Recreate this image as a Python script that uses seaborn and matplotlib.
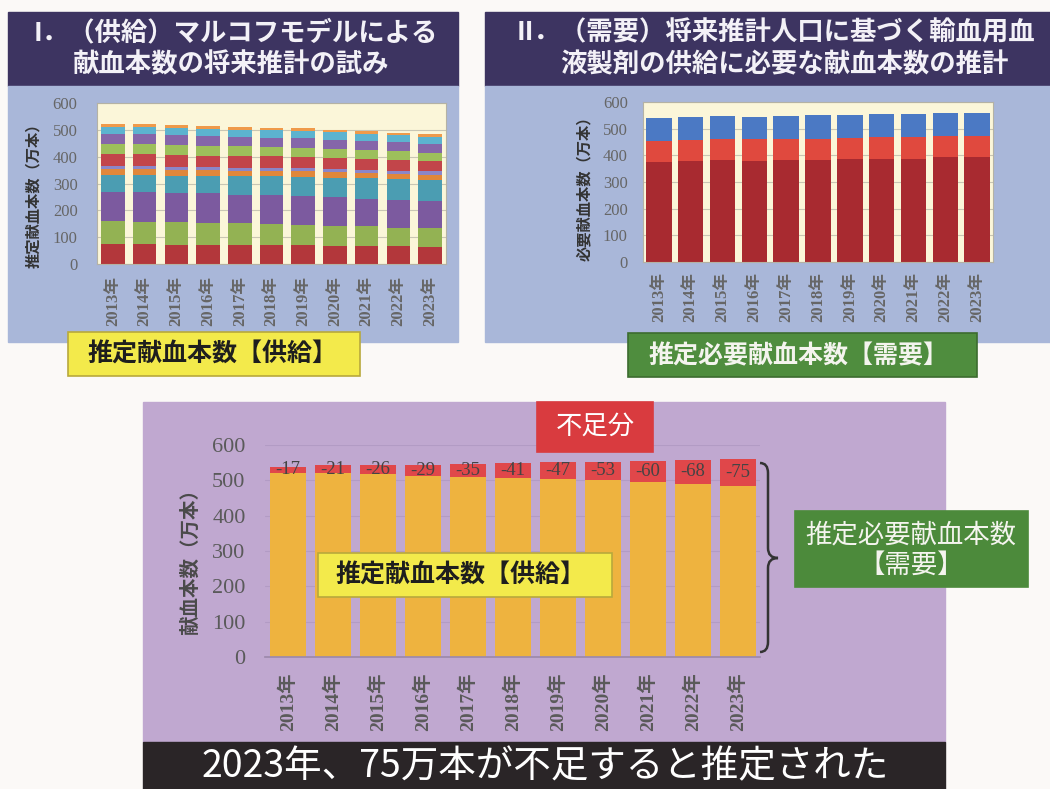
import numpy as np
import pandas as pd
import matplotlib
matplotlib.use("Agg")
import matplotlib.pyplot as plt
import seaborn as sns
from matplotlib.patches import Rectangle, PathPatch
from matplotlib.path import Path

# ---------------------------------------------------------------- data
years = ["2013年", "2014年", "2015年", "2016年", "2017年", "2018年",
         "2019年", "2020年", "2021年", "2022年", "2023年"]
y_ticks = [0, 100, 200, 300, 400, 500, 600]

# I. supply model (万本), stacked from bottom to top
sup_1 = [75, 73, 72, 71, 71, 70, 69, 68, 67, 66, 65]
sup_2 = [85, 84, 83, 82, 80, 79, 77, 75, 73, 70, 68]
sup_3 = [110, 110, 110, 110, 108, 108, 107, 105, 104, 102, 100]
sup_4 = [62, 64, 64, 65, 68, 70, 72, 74, 76, 79, 81]
sup_5 = [22, 22, 21, 21, 20, 20, 20, 19, 19, 18, 18]
sup_6 = [12, 12, 12, 12, 12, 12, 13, 13, 13, 13, 13]
sup_7 = [44, 44, 44, 43, 43, 42, 42, 42, 41, 41, 40]
sup_8 = [38, 38, 37, 37, 36, 35, 34, 33, 32, 31, 30]
sup_9 = [36, 36, 36, 35, 35, 35, 34, 34, 33, 33, 32]
sup_10 = [28, 28, 28, 28, 28, 28, 28, 28, 28, 28, 28]
sup_11 = [10, 10, 10, 9, 9, 9, 9, 9, 9, 9, 9]

# II. required donations (万本), stacked from bottom to top
dem_1 = [376, 380, 381, 380, 381, 384, 386, 386, 388, 392, 393]
dem_2 = [79, 78, 81, 82, 82, 79, 80, 82, 82, 79, 80]
dem_3 = [86, 84, 84, 83, 85, 87, 85, 87, 86, 87, 87]

# shortfall (万本)
shortage = [17, 21, 26, 29, 35, 41, 47, 53, 60, 68, 75]

supply_layers = [sup_1, sup_2, sup_3, sup_4, sup_5, sup_6,
                 sup_7, sup_8, sup_9, sup_10, sup_11]
supply_colors = ["#b3373b", "#93b253", "#7c5a9f", "#4b9db2", "#e0873b",
                 "#8b86c8", "#c2454a", "#9dbf5b", "#8566a9", "#5cb3cf",
                 "#ef9a4a"]
demand_layers = [dem_1, dem_2, dem_3]
demand_colors = ["#a82a30", "#e0493e", "#4b79c4"]

# ---------------------------------------------------------------- style
HEADER = "#3d3461"
BODY = "#a9b7d9"
CREAM = "#fbf6d9"
LAV = "#c0a8d0"
DARK = "#2a2527"
SERIF = ["Liberation Serif", "Noto Sans CJK JP"]

sns.set_theme(style="white")
plt.rcParams["font.family"] = ["Noto Sans CJK JP", "DejaVu Sans"]

W, H = 1050, 789
fig = plt.figure(figsize=(W / 100, H / 100), dpi=100)
fig.patch.set_facecolor("#fbf9f7")


def rect(x0, y0, x1, y1):
    return [x0 / W, 1 - y1 / H, (x1 - x0) / W, (y1 - y0) / H]


def stacked(ax, layers, colors, width):
    cum = np.cumsum(np.array(layers, dtype=float), axis=0)
    for k in range(len(layers) - 1, -1, -1):
        df = pd.DataFrame({"year": years, "value": cum[k]})
        sns.barplot(data=df, x="year", y="value", color=colors[k],
                    width=width, saturation=1, errorbar=None,
                    linewidth=0, ax=ax)
    return cum


def style_axes(ax, fs_y, fs_x, pad_y, pad_x, tick_color):
    ax.set_xlim(-0.5, len(years) - 0.5)
    ax.set_ylim(0, 600)
    ax.set_yticks(y_ticks)
    ax.set_yticklabels([str(v) for v in y_ticks], fontsize=fs_y,
                       color=tick_color, family=SERIF)
    ax.set_xticks(range(len(years)))
    ax.set_xticklabels(years, rotation=90, fontsize=fs_x, fontweight="bold",
                       color=tick_color, family=SERIF)
    ax.tick_params(axis="y", length=0, pad=pad_y)
    ax.tick_params(axis="x", length=0, pad=pad_x)
    ax.set_xlabel("")
    ax.set_ylabel("")
    ax.set_axisbelow(True)


# ---------------------------------------------------------------- backdrop
bg = fig.add_axes([0, 0, 1, 1], zorder=0)
bg.set_xlim(0, W)
bg.set_ylim(H, 0)
bg.axis("off")

bg.add_patch(Rectangle((8, 12), 450, 74, color=HEADER))
bg.add_patch(Rectangle((8, 86), 450, 256, color=BODY))
bg.add_patch(Rectangle((485, 12), 565, 74, color=HEADER))
bg.add_patch(Rectangle((485, 86), 565, 256, color=BODY))
bg.add_patch(Rectangle((143, 402), 802, 340, color=LAV))
bg.add_patch(Rectangle((143, 742), 802, 47, color=DARK))

head_kw = dict(ha="center", va="center", color="#f3f1f7", fontsize=19,
               fontweight="bold")
bg.text(236, 33, "I．（供給）マルコフモデルによる", **head_kw)
bg.text(231, 65, "献血本数の将来推計の試み", **head_kw)
bg.text(776, 33, "II．（需要）将来推計人口に基づく輸血用血", **head_kw)
bg.text(784, 65, "液製剤の供給に必要な献血本数の推計", **head_kw)

bg.text(33, 192, "推定献血本数（万本）", rotation=90, ha="center",
        va="center", fontsize=11, fontweight="bold", color="#333333")
bg.text(584, 185, "必要献血本数（万本）", rotation=90, ha="center",
        va="center", fontsize=11, fontweight="bold", color="#333333")
bg.text(190, 557, "献血本数（万本）", rotation=90, ha="center",
        va="center", fontsize=14, fontweight="bold", color="#4a4a4a")

bg.text(545, 767, "2023年、75万本が不足すると推定された", ha="center",
        va="center", fontsize=27, color="#ffffff")

# ---------------------------------------------------------------- I. supply
ax1 = fig.add_axes(rect(97, 103, 446, 264), zorder=1)
ax1.set_facecolor(CREAM)
stacked(ax1, supply_layers, supply_colors, 0.74)
style_axes(ax1, 12, 12, 14, 9, "#666666")
ax1.yaxis.grid(True, color="#c9c6b4", lw=0.8)
for s in ax1.spines.values():
    s.set_color("#b4b2a4")
    s.set_linewidth(0.8)

# ---------------------------------------------------------------- II. demand
ax2 = fig.add_axes(rect(643, 102, 993, 262), zorder=1)
ax2.set_facecolor(CREAM)
stacked(ax2, demand_layers, demand_colors, 0.8)
style_axes(ax2, 12, 12, 11, 7, "#666666")
ax2.yaxis.grid(True, color="#c9c6b4", lw=0.8)
for s in ax2.spines.values():
    s.set_color("#b4b2a4")
    s.set_linewidth(0.8)

# ---------------------------------------------------------------- supply vs demand
supply_total = np.sum(np.array(supply_layers), axis=0)
ax3 = fig.add_axes(rect(265, 445, 760, 657), zorder=1)
ax3.patch.set_alpha(0)
cum3 = stacked(ax3, [supply_total, shortage], ["#eeb33f", "#e0474a"], 0.8)
style_axes(ax3, 16, 14, 14, 11, "#5a5a5a")
ax3.yaxis.grid(True, color="#b29bc4", lw=0.8)
for name, s in ax3.spines.items():
    s.set_visible(name == "bottom")
ax3.spines["bottom"].set_color("#9d8aac")
for i, v in enumerate(shortage):
    ax3.text(i, supply_total[i] + v / 2, f"-{v}", ha="center", va="center",
             fontsize=13.5, color="#444444", family=SERIF)

# ---------------------------------------------------------------- callouts
fg = fig.add_axes([0, 0, 1, 1], zorder=2)
fg.set_xlim(0, W)
fg.set_ylim(H, 0)
fg.axis("off")
fg.patch.set_alpha(0)


def box(x0, y0, x1, y1, fc, ec):
    fg.add_patch(Rectangle((x0, y0), x1 - x0, y1 - y0, facecolor=fc,
                           edgecolor=ec, lw=1.2))


box(68, 332, 360, 376, "#f3ea4b", "#b8a93c")
fg.text(212, 355, "推定献血本数【供給】", ha="center", va="center",
        fontsize=18, fontweight="bold", color="#1e1e1e")

box(628, 333, 977, 377, "#4f8d3e", "#3c6c2f")
fg.text(798, 356, "推定必要献血本数【需要】", ha="center", va="center",
        fontsize=18, fontweight="bold", color="#f4f4ee")

box(537, 402, 653, 452, "#d93b3f", "#d93b3f")
fg.text(595, 426, "不足分", ha="center", va="center", fontsize=19,
        color="#ffffff")

box(318, 553, 612, 597, "#f3ea4b", "#b8a93c")
fg.text(460, 576, "推定献血本数【供給】", ha="center", va="center",
        fontsize=18, fontweight="bold", color="#1e1e1e")

box(795, 511, 1028, 587, "#4c8a3b", "#4c8a3b")
fg.text(911, 535, "推定必要献血本数", ha="center", va="center",
        fontsize=19, color="#f4f4ee")
fg.text(911, 565, "【需要】", ha="center", va="center",
        fontsize=19, color="#f4f4ee")

# curly brace spanning the demand bars
bx, tip, top, bot, mid = 760, 778, 463, 652, 558
verts = [(bx, top), (bx + 8, top), (bx + 8, top + 10),
         (bx + 8, mid - 10),
         (bx + 8, mid), (tip, mid),
         (bx + 8, mid), (bx + 8, mid + 10),
         (bx + 8, bot - 10),
         (bx + 8, bot), (bx, bot)]
codes = [Path.MOVETO, Path.CURVE3, Path.CURVE3,
         Path.LINETO,
         Path.CURVE3, Path.CURVE3,
         Path.CURVE3, Path.CURVE3,
         Path.LINETO,
         Path.CURVE3, Path.CURVE3]
fg.add_patch(PathPatch(Path(verts, codes), facecolor="none",
                       edgecolor="#333333", lw=1.8))

fig.savefig("out.png", dpi=100, facecolor=fig.get_facecolor())
